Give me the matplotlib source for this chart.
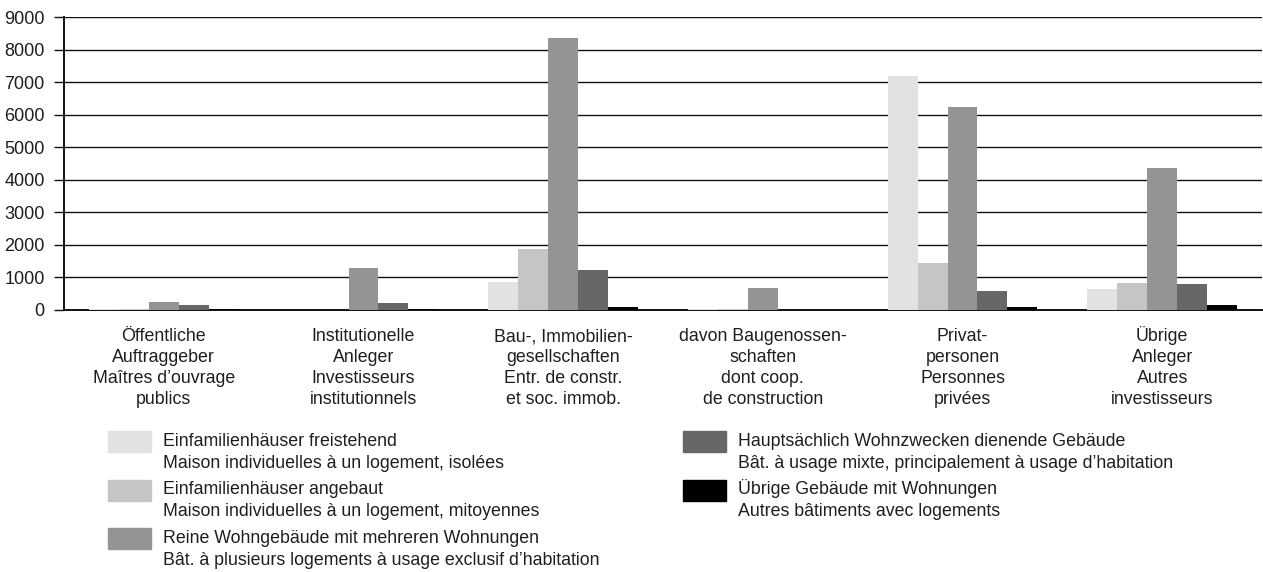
import matplotlib
matplotlib.use("Agg")
import matplotlib.pyplot as plt
from matplotlib.patches import Rectangle
import numpy as np

plt.rcParams['font.family'] = ['Liberation Sans', 'DejaVu Sans']

categories = [
    "Öffentliche\nAuftraggeber\nMaîtres d’ouvrage\npublics",
    "Institutionelle\nAnleger\nInvestisseurs\ninstitutionnels",
    "Bau-, Immobilien-\ngesellschaften\nEntr. de constr.\net soc. immob.",
    "davon Baugenossen-\nschaften\ndont coop.\nde construction",
    "Privat-\npersonen\nPersonnes\nprivées",
    "Übrige\nAnleger\nAutres\ninvestisseurs",
]
series_names = [
    "Einfamilienhäuser freistehend\nMaison individuelles à un logement, isolées",
    "Einfamilienhäuser angebaut\nMaison individuelles à un logement, mitoyennes",
    "Reine Wohngebäude mit mehreren Wohnungen\nBât. à plusieurs logements à usage exclusif d’habitation",
    "Hauptsächlich Wohnzwecken dienende Gebäude\nBât. à usage mixte, principalement à usage d’habitation",
    "Übrige Gebäude mit Wohnungen\nAutres bâtiments avec logements",
]
efh_frei = [20, 0, 870, 20, 7200, 645]
efh_angebaut = [30, 0, 1870, 30, 1450, 840]
mfh = [255, 1300, 8370, 675, 6250, 4350]
mixte = [150, 225, 1230, 10, 585, 800]
uebrige = [30, 30, 85, 5, 95, 165]
series = [efh_frei, efh_angebaut, mfh, mixte, uebrige]
colors = ["#e1e2e1", "#c4c5c6", "#939495", "#666769", "#000000"]
yticks = [0, 1000, 2000, 3000, 4000, 5000, 6000, 7000, 8000, 9000]

W, H = 1263, 572
FS = 12.8
TXT = "#1e1e1e"
fig = plt.figure(figsize=(W / 100, H / 100), dpi=100)
ax = fig.add_axes([64 / W, 1 - 310 / H, (1262 - 64) / W, (310 - 17) / H])

x = np.arange(len(categories))
bw = 0.15
for i, (vals, c) in enumerate(zip(series, colors)):
    ax.bar(x + (i - 2) * bw, vals, width=bw, color=c, zorder=3, linewidth=0)

ax.set_xlim(-0.5, len(categories) - 0.5)
ax.set_ylim(0, 9000)
ax.set_yticks(yticks)
ax.set_yticklabels([str(t) for t in yticks], fontsize=13, color=TXT)
for t in yticks[1:]:
    ax.axhline(t, color="#111111", lw=1.0, zorder=1)
ax.tick_params(axis='y', length=7, width=1, color="#111111", pad=7)
ax.set_xticks([])
for s in ["top", "right"]:
    ax.spines[s].set_visible(False)
for s in ["left", "bottom"]:
    ax.spines[s].set_color("#111111")
    ax.spines[s].set_linewidth(1.4)

def fy(py):
    return 1 - py / H

# category labels, each line on its own baseline
for i, lab in enumerate(categories):
    xc_fig = (64 + (i + 0.5) * (1262 - 64) / len(categories)) / W
    for k, line in enumerate(lab.split("\n")):
        fig.text(xc_fig, fy(341 + k * 21), line, ha="center", va="baseline",
                 fontsize=FS, color=TXT)

# legend
def legend_item(px, base, color, text):
    fig.patches.append(Rectangle((px / W, fy(base + 6)), 43 / W, 21 / H,
                                 transform=fig.transFigure, color=color, figure=fig))
    for k, line in enumerate(text.split("\n")):
        fig.text((px + 55) / W, fy(base + k * 22), line, ha="left", va="baseline",
                 fontsize=FS, color=TXT)

left_rows = [446, 494.5, 543]
right_rows = [446, 494.5]
for i in range(3):
    legend_item(108, left_rows[i], colors[i], series_names[i])
for j in range(2):
    legend_item(683, right_rows[j], colors[3 + j], series_names[3 + j])

fig.savefig("out.png", dpi=100)
